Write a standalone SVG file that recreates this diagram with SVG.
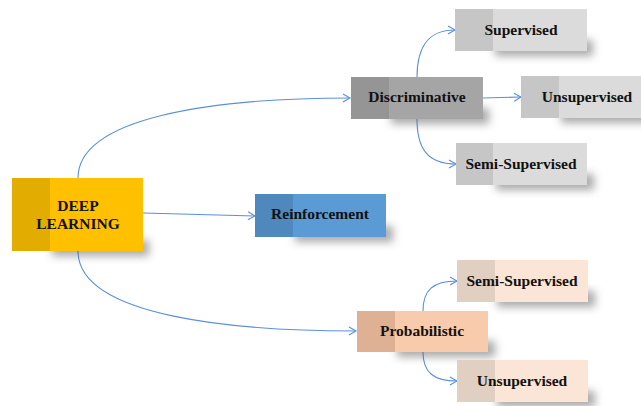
<svg xmlns="http://www.w3.org/2000/svg" width="641" height="406" viewBox="0 0 641 406">
<defs>
<filter id="blur" x="-20%" y="-50%" width="140%" height="200%"><feGaussianBlur stdDeviation="4"/></filter>
<marker id="arr" markerWidth="10" markerHeight="10" refX="8" refY="5" orient="auto" markerUnits="userSpaceOnUse">
<path d="M1,1 L8,5 L1,9" fill="none" stroke="#5B8FDB" stroke-width="1.1"/>
</marker>
</defs>
<style>
.t{font-family:"Liberation Serif","Times New Roman",serif;font-weight:bold;font-size:15.5px;fill:#111;text-anchor:middle}
.sh{fill:#555;opacity:0.5;filter:url(#blur)}
.c{fill:none;stroke:#5B8FDB;stroke-width:1.1;marker-end:url(#arr)}
</style>
<rect width="641" height="406" fill="#fff"/>
<g id="connectors">
<path class="c" d="M78,178 C78,118 210,98 350,98"/>
<path class="c" d="M143,213 L255,216"/>
<path class="c" d="M78,251 C78,318 240,331 356,331"/>
<path class="c" d="M417,77 C417,48 427,30 455,30"/>
<path class="c" d="M483,98 L521,97"/>
<path class="c" d="M417,119 C417,148 427,164 456,164"/>
<path class="c" d="M423,311 C423,290 433,281 457,281"/>
<path class="c" d="M423,352 C423,372 433,381 457,381"/>
</g>
<g id="deep-learning">
<rect class="sh" x="52" y="240" width="97" height="16"/>
<rect x="12" y="178" width="131" height="73" fill="#FFC000"/>
<rect x="12" y="178" width="38" height="73" fill="#E2AC00"/>
<text class="t" x="78" y="211">DEEP</text>
<text class="t" x="78" y="229">LEARNING</text>
</g>
<g id="discriminative">
<rect class="sh" x="391" y="108" width="98" height="16"/>
<rect x="351" y="77" width="132" height="42" fill="#A5A5A5"/>
<rect x="351" y="77" width="38" height="42" fill="#959595"/>
<text class="t" x="417" y="102">Discriminative</text>
</g>
<g id="supervised">
<rect class="sh" x="495" y="40" width="98" height="16"/>
<rect x="455" y="9" width="132" height="42" fill="#DBDBDB"/>
<rect x="455" y="9" width="38" height="42" fill="#C6C6C6"/>
<text class="t" x="521" y="35">Supervised</text>
</g>
<g id="unsupervised-top">
<rect class="sh" x="561" y="107" width="98" height="16"/>
<rect x="521" y="76" width="132" height="42" fill="#DBDBDB"/>
<rect x="521" y="76" width="38" height="42" fill="#C6C6C6"/>
<text class="t" x="587" y="102">Unsupervised</text>
</g>
<g id="semi-supervised-top">
<rect class="sh" x="496" y="174" width="98" height="16"/>
<rect x="456" y="143" width="131" height="42" fill="#DBDBDB"/>
<rect x="456" y="143" width="37" height="42" fill="#C6C6C6"/>
<text class="t" x="521" y="169">Semi-Supervised</text>
</g>
<g id="reinforcement">
<rect class="sh" x="295" y="226" width="98" height="16"/>
<rect x="255" y="194" width="131" height="43" fill="#5B9BD5"/>
<rect x="255" y="194" width="38" height="43" fill="#4E88BD"/>
<text class="t" x="320" y="219">Reinforcement</text>
</g>
<g id="probabilistic">
<rect class="sh" x="397" y="341" width="98" height="16"/>
<rect x="357" y="311" width="131" height="41" fill="#F8CBAD"/>
<rect x="357" y="311" width="38" height="41" fill="#DEB195"/>
<text class="t" x="422" y="336">Probabilistic</text>
</g>
<g id="semi-supervised-bottom">
<rect class="sh" x="497" y="291" width="98" height="16"/>
<rect x="457" y="260" width="131" height="42" fill="#FBE5D6"/>
<rect x="457" y="260" width="38" height="42" fill="#E1CFC1"/>
<text class="t" x="522" y="286">Semi-Supervised</text>
</g>
<g id="unsupervised-bottom">
<rect class="sh" x="497" y="391" width="98" height="16"/>
<rect x="457" y="360" width="131" height="42" fill="#FBE5D6"/>
<rect x="457" y="360" width="38" height="42" fill="#E1CFC1"/>
<text class="t" x="522" y="386">Unsupervised</text>
</g>
</svg>
